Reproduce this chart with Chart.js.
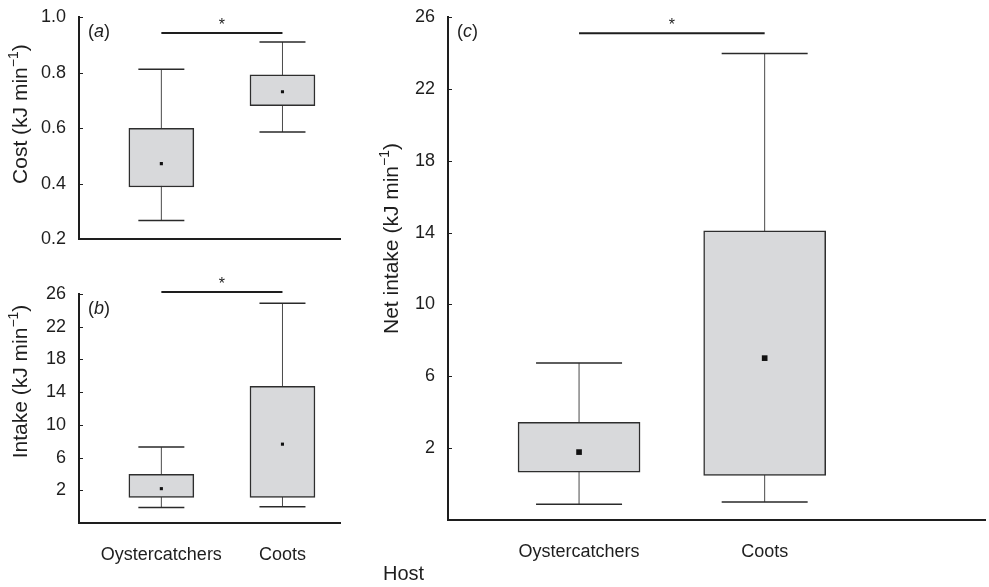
<!DOCTYPE html>
<html>
<head>
<meta charset="utf-8">
<script src="https://cdn.jsdelivr.net/npm/chart.js@4.4.1/dist/chart.umd.min.js"></script>
<style>
  body { margin: 0; background: #fff; }
  #wrap { position: relative; width: 989px; height: 587px; overflow: hidden; }
  canvas { position: absolute; }
</style>
</head>
<body>
<div id="wrap">
  <canvas id="costChart" width="345" height="255" style="left:0px;top:0px"></canvas>
  <canvas id="intakeChart" width="345" height="332" style="left:0px;top:255px"></canvas>
  <canvas id="netChart" width="644" height="587" style="left:345px;top:0px"></canvas>
</div>
<script>
const hosts = ['Oystercatchers', 'Coots'];

// (a) cost, kJ/min
const costMin = [0.267, 0.586];
const costQ1 = [0.388, 0.681];
const costMedian = [0.472, 0.731];
const costQ3 = [0.599, 0.792];
const costMax = [0.812, 0.91];
const costTicks = [0.2, 0.4, 0.6, 0.8, 1.0];
const costSig = 0.942;

// (b) intake, kJ/min
const intakeMin = [-0.1, 0.0];
const intakeQ1 = [1.14, 1.14];
const intakeMedian = [2.2, 7.64];
const intakeQ3 = [3.96, 14.72];
const intakeMax = [7.28, 24.86];
const intakeTicks = [2, 6, 10, 14, 18, 22, 26];
const intakeSig = 26.25;

// (c) net intake, kJ/min
const netMin = [-1.12, -1.0];
const netQ1 = [0.66, 0.48];
const netMedian = [1.78, 7.01];
const netQ3 = [3.43, 14.1];
const netMax = [6.74, 23.97];
const netTicks = [2, 6, 10, 14, 18, 22, 26];
const netSig = 25.09;

const FONT = "'Liberation Sans', Arial, sans-serif";
const INK = '#1e1e1e';

// whiskers behind the boxes, then axis decorations on top
const boxDecor = {
  id: 'boxDecor',
  beforeDatasetsDraw(chart, args, o) {
    const { ctx, scales: { x, y } } = chart;
    ctx.save();
    o.low.forEach((lo, i) => {
      const px = x.getPixelForValue(i + 1);
      const top = y.getPixelForValue(o.high[i]);
      const bot = y.getPixelForValue(lo);
      ctx.strokeStyle = '#4a4a4a';
      ctx.lineWidth = 1;
      ctx.beginPath();
      ctx.moveTo(px, top); ctx.lineTo(px, bot);
      ctx.stroke();
      ctx.strokeStyle = '#2a2a2a';
      ctx.lineWidth = 1.5;
      ctx.beginPath();
      ctx.moveTo(px - o.cap, top); ctx.lineTo(px + o.cap, top);
      ctx.moveTo(px - o.cap, bot); ctx.lineTo(px + o.cap, bot);
      ctx.stroke();
    });
    ctx.restore();
  },
  afterDraw(chart, args, o) {
    const { ctx, chartArea: area, scales: { x, y } } = chart;
    ctx.save();
    ctx.fillStyle = INK;
    ctx.strokeStyle = INK;

    // short inward ticks
    ctx.lineWidth = 1;
    ctx.beginPath();
    y.ticks.forEach(t => {
      const py = Math.round(y.getPixelForValue(t.value)) + 0.5;
      ctx.moveTo(area.left, py); ctx.lineTo(area.left + 4, py);
    });
    ctx.stroke();

    // significance bar
    const sy = y.getPixelForValue(o.sig);
    ctx.lineWidth = 2;
    ctx.beginPath();
    ctx.moveTo(x.getPixelForValue(1), sy);
    ctx.lineTo(x.getPixelForValue(2), sy);
    ctx.stroke();
    ctx.font = '16px ' + FONT;
    ctx.textAlign = 'center';
    ctx.textBaseline = 'alphabetic';
    ctx.fillText('*', (x.getPixelForValue(1) + x.getPixelForValue(2)) / 2, sy - 3);

    // panel label, letter in italics
    ctx.textAlign = 'left';
    ctx.textBaseline = 'middle';
    let lx = area.left + 9;
    const ly = area.top + 15;
    ctx.font = '18px ' + FONT;
    ctx.fillText('(', lx, ly); lx += ctx.measureText('(').width;
    ctx.font = 'italic 18px ' + FONT;
    ctx.fillText(o.letter, lx, ly); lx += ctx.measureText(o.letter).width;
    ctx.font = '18px ' + FONT;
    ctx.fillText(')', lx, ly);

    // y title with superscript unit
    const main = o.title + ' (kJ min';
    const sup = '\u22121';
    ctx.font = '21px ' + FONT;
    const wMain = ctx.measureText(main).width;
    const wClose = ctx.measureText(')').width;
    ctx.font = '14px ' + FONT;
    const wSup = ctx.measureText(sup).width;
    const total = wMain + wSup + wClose;
    ctx.translate(area.left + o.titleDx, (area.top + area.bottom) / 2 - o.titleShift);
    ctx.rotate(-Math.PI / 2);
    let tx = -total / 2;
    ctx.font = '21px ' + FONT;
    ctx.fillText(main, tx, 0); tx += wMain;
    ctx.font = '14px ' + FONT;
    ctx.fillText(sup, tx, -7); tx += wSup;
    ctx.font = '21px ' + FONT;
    ctx.fillText(')', tx, 0);
    ctx.setTransform(1, 0, 0, 1, 0, 0);

    if (o.host) {
      ctx.font = '20px ' + FONT;
      ctx.textAlign = 'left';
      ctx.fillText('Host', area.left - 65, area.bottom + 54);
    }
    ctx.restore();
  }
};

function makeBoxChart(id, cfg) {
  const boxData = hosts.map((h, i) => ({ x: i + 1, y: [cfg.q1[i], cfg.q3[i]] }));
  const medData = hosts.map((h, i) => ({ x: i + 1, y: cfg.median[i] }));
  return new Chart(document.getElementById(id), {
    type: 'bar',
    data: {
      datasets: [
        {
          type: 'bar',
          data: boxData,
          backgroundColor: '#d8d9db',
          borderColor: '#2e2e2e',
          borderWidth: 1.5,
          borderSkipped: false,
          barThickness: cfg.boxWidth,
          order: 2
        },
        {
          type: 'scatter',
          data: medData,
          pointStyle: 'rect',
          pointRadius: cfg.medSize,
          backgroundColor: '#111',
          borderWidth: 0,
          order: 1
        }
      ]
    },
    options: {
      responsive: false,
      animation: false,
      events: [],
      layout: { padding: cfg.padding },
      plugins: {
        legend: { display: false },
        tooltip: { enabled: false },
        boxDecor: {
          low: cfg.low, high: cfg.high, cap: cfg.cap, sig: cfg.sig,
          letter: cfg.letter, title: cfg.title, titleDx: cfg.titleDx,
          titleShift: cfg.titleShift, host: cfg.host
        }
      },
      scales: {
        x: {
          type: 'linear',
          offset: false,
          min: cfg.xMin,
          max: cfg.xMax,
          grid: { display: false, offset: false },
          border: { display: true, color: INK, width: 2 },
          afterBuildTicks: s => { s.ticks = hosts.map((h, i) => ({ value: i + 1 })); },
          afterFit: s => { s.height = cfg.xHeight; },
          ticks: {
            display: cfg.showHosts,
            autoSkip: false,
            maxRotation: 0,
            padding: cfg.xPad,
            color: INK,
            font: { family: FONT, size: 18 },
            callback: (v, i) => hosts[i]
          }
        },
        y: {
          min: cfg.yMin,
          max: cfg.yMax,
          grid: { display: false },
          border: { display: true, color: INK, width: 2 },
          afterBuildTicks: s => { s.ticks = cfg.ticks.map(v => ({ value: v })); },
          afterFit: s => { s.width = cfg.yWidth; },
          ticks: {
            padding: 5,
            color: INK,
            font: { family: FONT, size: 18 },
            callback: v => cfg.fmt(v)
          }
        }
      }
    },
    plugins: [boxDecor]
  });
}

makeBoxChart('costChart', {
  q1: costQ1, q3: costQ3, median: costMedian, low: costMin, high: costMax,
  ticks: costTicks, sig: costSig, yMin: 0.2, yMax: 1.0, fmt: v => v.toFixed(1),
  xMin: 0.32, xMax: 2.475, boxWidth: 65, medSize: 2.2, cap: 23,
  padding: { top: 17, right: 5, bottom: 0, left: 0 }, yWidth: 79, xHeight: 8,
  showHosts: false, xPad: 13, letter: 'a', title: 'Cost', titleDx: -58, titleShift: 14
});

makeBoxChart('intakeChart', {
  q1: intakeQ1, q3: intakeQ3, median: intakeMedian, low: intakeMin, high: intakeMax,
  ticks: intakeTicks, sig: intakeSig, yMin: -2, yMax: 26, fmt: v => String(v),
  xMin: 0.32, xMax: 2.475, boxWidth: 65, medSize: 2.2, cap: 23,
  padding: { top: 39, right: 5, bottom: 0, left: 0 }, yWidth: 79, xHeight: 64,
  showHosts: true, xPad: 13, letter: 'b', title: 'Intake', titleDx: -58, titleShift: 27
});

makeBoxChart('netChart', {
  q1: netQ1, q3: netQ3, median: netMedian, low: netMin, high: netMax,
  ticks: netTicks, sig: netSig, yMin: -2, yMax: 26, fmt: v => String(v),
  xMin: 0.294, xMax: 3.187, boxWidth: 122, medSize: 4, cap: 43,
  padding: { top: 17, right: -4, bottom: 0, left: 0 }, yWidth: 103, xHeight: 67,
  showHosts: true, xPad: 13, letter: 'c', title: 'Net intake', titleDx: -56, titleShift: 30,
  host: true
});
</script>
</body>
</html>
